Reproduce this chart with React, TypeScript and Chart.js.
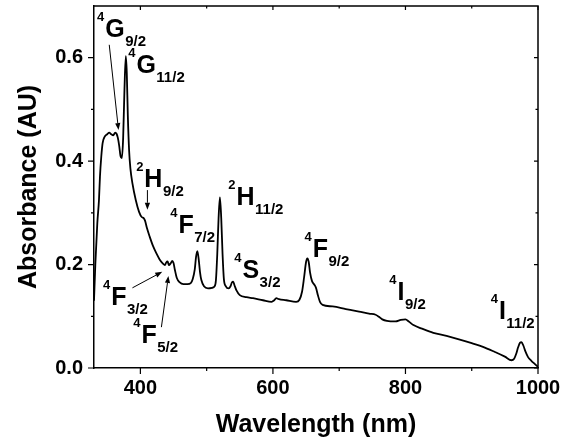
import { useEffect, useRef } from "react";
import { Chart, registerables } from "chart.js";

Chart.register(...registerables);

const FONT = '"Liberation Sans", Arial, sans-serif';

// absorption spectrum
const wavelengthNm = [
  330, 332, 335, 337.5, 339, 341, 343, 346, 350, 353, 356, 359, 362, 364, 366, 368, 370, 372, 374, 376,
  378, 379.5, 381, 383, 385, 388, 393, 398, 402, 405, 407, 410, 414, 419, 424, 429, 434, 437, 439, 441,
  443, 446, 448, 450, 452, 455, 459, 465, 471, 476, 479, 482, 484, 486, 488, 490, 492, 496, 502, 508,
  512, 514, 516, 518, 520, 522, 524, 526, 529, 533, 536, 538, 540, 542, 545, 550, 560, 570, 585, 598,
  602, 605, 609, 620, 635, 640, 644, 647, 650, 652, 654, 656, 659, 662, 665, 668, 671, 675, 690, 710,
  730, 745, 755, 760, 765, 772, 785, 793, 800, 805, 812, 825, 842, 862, 882, 900, 917, 935, 950, 960,
  964, 967, 970, 973, 975, 978, 981, 985, 990, 995, 1000,
];
const absorbanceAu = [
  0.13, 0.2, 0.28, 0.325, 0.37, 0.409, 0.435, 0.447, 0.452, 0.455, 0.452, 0.45, 0.455, 0.453, 0.445, 0.43, 0.41, 0.406, 0.445, 0.54,
  0.603, 0.57, 0.49, 0.42, 0.385, 0.357, 0.325, 0.302, 0.292, 0.29, 0.285, 0.27, 0.254, 0.236, 0.222, 0.21, 0.202, 0.199, 0.204, 0.206,
  0.199, 0.203, 0.207, 0.203, 0.19, 0.174, 0.166, 0.162, 0.162, 0.164, 0.172, 0.19, 0.215, 0.226, 0.21, 0.185, 0.17, 0.158, 0.154, 0.155,
  0.158, 0.17, 0.22, 0.29, 0.33, 0.29, 0.22, 0.172, 0.158, 0.154, 0.158, 0.165, 0.167, 0.16, 0.15, 0.141, 0.137, 0.135, 0.131, 0.128,
  0.131, 0.135, 0.133, 0.131, 0.128, 0.132, 0.148, 0.175, 0.205, 0.212, 0.205, 0.185, 0.168, 0.162, 0.155, 0.14, 0.128, 0.122, 0.119, 0.114,
  0.109, 0.105, 0.103, 0.099, 0.094, 0.091, 0.09, 0.093, 0.094, 0.09, 0.083, 0.076, 0.068, 0.062, 0.055, 0.048, 0.041, 0.031, 0.022, 0.015,
  0.018, 0.027, 0.04, 0.049, 0.05, 0.043, 0.032, 0.021, 0.014, 0.008, 0.002,
];

const majorXTicks = [400, 600, 800, 1000];
const minorXTicks = [500, 700, 900];
const majorYTicks = [0, 0.2, 0.4, 0.6];
const minorYTicks = [0.1, 0.3, 0.5];

// term symbols; x/y = left edge and baseline of the big letter, in data units
const termLabels = [
  { sup: "4", letter: "G", sub: "9/2", x: 347, y: 0.64 },
  { sup: "4", letter: "G", sub: "11/2", x: 394, y: 0.571 },
  { sup: "2", letter: "H", sub: "9/2", x: 406, y: 0.35 },
  { sup: "4", letter: "F", sub: "7/2", x: 457.4, y: 0.261 },
  { sup: "2", letter: "H", sub: "11/2", x: 545, y: 0.315 },
  { sup: "4", letter: "S", sub: "3/2", x: 554, y: 0.174 },
  { sup: "4", letter: "F", sub: "9/2", x: 660, y: 0.215 },
  { sup: "4", letter: "I", sub: "9/2", x: 788, y: 0.132 },
  { sup: "4", letter: "I", sub: "11/2", x: 941, y: 0.095 },
  { sup: "4", letter: "F", sub: "3/2", x: 356, y: 0.122 },
  { sup: "4", letter: "F", sub: "5/2", x: 401.5, y: 0.048 },
];

const pointerArrows = [
  { x1: 353, y1: 0.625, x2: 367, y2: 0.46 },
  { x1: 410.6, y1: 0.344, x2: 410.6, y2: 0.306 },
  { x1: 388, y1: 0.155, x2: 433, y2: 0.186 },
  { x1: 431.7, y1: 0.079, x2: 442.3, y2: 0.178 },
];

const decorPlugin = {
  id: "decor",
  afterDraw(chart: any) {
    const { ctx, chartArea: a } = chart;
    const xs = chart.scales.x;
    const ys = chart.scales.y;
    ctx.save();
    ctx.strokeStyle = "#000";
    ctx.fillStyle = "#000";

    // top and right frame
    ctx.lineWidth = 1.5;
    ctx.beginPath();
    ctx.moveTo(a.left, a.top);
    ctx.lineTo(a.right, a.top);
    ctx.lineTo(a.right, a.bottom);
    ctx.stroke();

    // ticks: outward on bottom/left, inward mirror on top/right
    ctx.lineWidth = 1.2;
    ctx.beginPath();
    const xTick = (v: number, out: number, inn: number) => {
      const px = xs.getPixelForValue(v);
      ctx.moveTo(px, a.bottom);
      ctx.lineTo(px, a.bottom + out);
      ctx.moveTo(px, a.top);
      ctx.lineTo(px, a.top + inn);
    };
    const yTick = (v: number, out: number, inn: number) => {
      const py = ys.getPixelForValue(v);
      ctx.moveTo(a.left - out, py);
      ctx.lineTo(a.left, py);
      ctx.moveTo(a.right - inn, py);
      ctx.lineTo(a.right, py);
    };
    majorXTicks.forEach((v) => xTick(v, 6, 4));
    minorXTicks.forEach((v) => xTick(v, 3, 2.5));
    majorYTicks.forEach((v) => yTick(v, 6, 4));
    minorYTicks.forEach((v) => yTick(v, 3, 2.5));
    ctx.stroke();

    // term symbols
    ctx.textBaseline = "alphabetic";
    termLabels.forEach((t) => {
      const px = xs.getPixelForValue(t.x);
      const py = ys.getPixelForValue(t.y);
      ctx.font = `bold 25px ${FONT}`;
      ctx.textAlign = "left";
      ctx.fillText(t.letter, px, py);
      const w = ctx.measureText(t.letter).width;
      ctx.font = `bold 15px ${FONT}`;
      ctx.fillText(t.sub, px + w + 0.5, py + 9);
      ctx.font = `bold 13px ${FONT}`;
      ctx.textAlign = "right";
      ctx.fillText(t.sup, px - 1, py - 16);
    });

    // arrows
    ctx.lineWidth = 1;
    pointerArrows.forEach((p) => {
      const x1 = xs.getPixelForValue(p.x1);
      const y1 = ys.getPixelForValue(p.y1);
      const x2 = xs.getPixelForValue(p.x2);
      const y2 = ys.getPixelForValue(p.y2);
      const ang = Math.atan2(y2 - y1, x2 - x1);
      const len = 7;
      const hw = 2.6;
      const bx = x2 - len * Math.cos(ang);
      const by = y2 - len * Math.sin(ang);
      ctx.beginPath();
      ctx.moveTo(x1, y1);
      ctx.lineTo(bx, by);
      ctx.stroke();
      ctx.beginPath();
      ctx.moveTo(x2, y2);
      ctx.lineTo(bx + hw * Math.sin(ang), by - hw * Math.cos(ang));
      ctx.lineTo(bx - hw * Math.sin(ang), by + hw * Math.cos(ang));
      ctx.closePath();
      ctx.fill();
    });
    ctx.restore();
  },
};

export default function App() {
  const canvasRef = useRef<HTMLCanvasElement>(null);

  useEffect(() => {
    if (!canvasRef.current) return;
    document.body.style.margin = "0";

    const tickFont = { family: FONT, size: 20, weight: "bold" as const };
    const titleFont = { family: FONT, size: 25, weight: "bold" as const };

    const chart = new Chart(canvasRef.current, {
      type: "line",
      data: {
        datasets: [
          {
            data: wavelengthNm.map((x, i) => ({ x, y: absorbanceAu[i] })),
            borderColor: "#000",
            borderWidth: 1.8,
            pointRadius: 0,
            cubicInterpolationMode: "monotone",
            fill: false,
          },
        ],
      },
      options: {
        responsive: false,
        animation: false,
        layout: { padding: { left: 0, right: 37, top: 6, bottom: 0 } },
        plugins: {
          legend: { display: false },
          tooltip: { enabled: false },
        },
        scales: {
          x: {
            type: "linear",
            min: 330,
            max: 1000,
            afterBuildTicks: (s: any) => {
              s.ticks = majorXTicks.map((v) => ({ value: v }));
            },
            afterFit: (s: any) => {
              s.height = 76;
              s.paddingLeft = 0;
              s.paddingRight = 0;
            },
            grid: { display: false, drawTicks: false },
            border: { display: true, color: "#000", width: 1.5 },
            ticks: {
              color: "#000",
              font: tickFont,
              padding: 8,
              maxRotation: 0,
              autoSkip: false,
              callback: (v: any) => String(v),
            },
            title: {
              display: true,
              text: "Wavelength (nm)",
              color: "#000",
              font: titleFont,
              padding: { top: 0, bottom: 4 },
            },
          },
          y: {
            type: "linear",
            min: 0,
            max: 0.7,
            afterBuildTicks: (s: any) => {
              s.ticks = majorYTicks.map((v) => ({ value: v }));
            },
            afterFit: (s: any) => {
              s.width = 94;
              s.paddingTop = 0;
              s.paddingBottom = 0;
            },
            grid: { display: false, drawTicks: false },
            border: { display: true, color: "#000", width: 1.5 },
            ticks: {
              color: "#000",
              font: tickFont,
              padding: 11,
              autoSkip: false,
              callback: (v: any) => Number(v).toFixed(1),
            },
            title: {
              display: true,
              text: "Absorbance (AU)",
              color: "#000",
              font: titleFont,
              padding: { top: 14, bottom: 0 },
            },
          },
        },
      },
      plugins: [decorPlugin],
    });

    return () => chart.destroy();
  }, []);

  return <canvas ref={canvasRef} width={575} height={444} style={{ display: "block" }} />;
}
